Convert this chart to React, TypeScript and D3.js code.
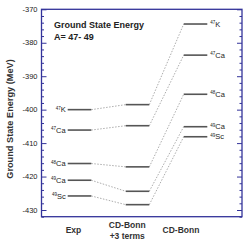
import React, { useEffect, useRef } from "react";
import * as d3 from "d3";

// columns of the level scheme
const columns = ["Exp", "CD-Bonn +3 terms", "CD-Bonn"];
const columnLines = [["Exp"], ["CD-Bonn", "+3 terms"], ["CD-Bonn"]];

// nuclei (mass number + symbol)
const masses = ["47", "47", "48", "49", "49"];
const symbols = ["K", "Ca", "Ca", "Ca", "Sc"];

// ground state energies (MeV)
const expValues = [-400.0, -406.1, -416.1, -421.1, -425.8];
const cdBonn3Values = [-398.5, -404.8, -417.1, -424.4, -428.4];
const cdBonnValues = [-374.4, -383.7, -395.4, -405.1, -408.1];

const yTicks = [-370, -380, -390, -400, -410, -420, -430];

const App = () => {
  const svgRef = useRef<SVGSVGElement>(null);

  const width = 249;
  const height = 249;
  const marginLeft = 41.5;
  const marginRight = 7;
  const marginTop = 9.3;
  const plotBottom = 216.7;
  const frameColor = "#33339a";
  const levelColor = "#555";
  const halfW = 11.8;

  useEffect(() => {
    const svg = d3.select(svgRef.current);
    svg.selectAll("*").remove();
    svg.attr("width", width).attr("height", height).attr("viewBox", [0, 0, width, height].join(" "));

    const y = d3.scaleLinear().domain([-432, -370]).range([plotBottom, marginTop]);
    const x = d3.scalePoint<string>().domain(columns).range([79.5, 195.5]);
    const xLabel = d3.scalePoint<string>().domain(columns).range([73.5, 181]);

    const font = "Arial, 'Liberation Sans', Helvetica, sans-serif";
    const series = [expValues, cdBonn3Values, cdBonnValues];

    // frame
    svg.append("rect")
      .attr("x", marginLeft)
      .attr("y", marginTop)
      .attr("width", width - marginRight - marginLeft)
      .attr("height", plotBottom - marginTop)
      .attr("fill", "white")
      .attr("stroke", frameColor)
      .attr("stroke-width", 1.3);

    // left / right axes with inward ticks
    const minor = d3.range(-432, -369, 2).filter(v => v % 10 !== 0);
    svg.append("g")
      .attr("transform", `translate(${marginLeft},0)`)
      .call(d3.axisRight(y).tickValues(yTicks).tickSize(5).tickFormat(() => ""))
      .call(g => g.select(".domain").remove())
      .call(g => g.selectAll("line").attr("stroke", frameColor));
    svg.append("g")
      .attr("transform", `translate(${marginLeft},0)`)
      .call(d3.axisRight(y).tickValues(minor).tickSize(2.5).tickFormat(() => ""))
      .call(g => g.select(".domain").remove())
      .call(g => g.selectAll("line").attr("stroke", frameColor));
    svg.append("g")
      .attr("transform", `translate(${width - marginRight},0)`)
      .call(d3.axisLeft(y).tickValues(yTicks).tickSize(5).tickFormat(() => ""))
      .call(g => g.select(".domain").remove())
      .call(g => g.selectAll("line").attr("stroke", frameColor));
    svg.append("g")
      .attr("transform", `translate(${width - marginRight},0)`)
      .call(d3.axisLeft(y).tickValues(minor).tickSize(2.5).tickFormat(() => ""))
      .call(g => g.select(".domain").remove())
      .call(g => g.selectAll("line").attr("stroke", frameColor));

    // tick labels
    svg.append("g")
      .selectAll("text")
      .data(yTicks)
      .join("text")
      .attr("x", marginLeft - 4)
      .attr("y", d => y(d))
      .attr("dy", "0.35em")
      .attr("text-anchor", "end")
      .attr("font-family", font)
      .attr("font-size", 7.5)
      .attr("fill", "#222")
      .text(d => d);

    // y title
    svg.append("text")
      .attr("transform", `translate(13,${(marginTop + plotBottom) / 2 + 6}) rotate(-90)`)
      .attr("text-anchor", "middle")
      .attr("font-family", font)
      .attr("font-size", 9.2)
      .attr("font-weight", "bold")
      .attr("fill", "#333")
      .text("Ground State Energy (MeV)");

    // connectors
    const conn = svg.append("g")
      .attr("fill", "none")
      .attr("stroke", "#888")
      .attr("stroke-width", 0.7)
      .attr("stroke-dasharray", "1.5,1.5");
    for (let c = 0; c < columns.length - 1; c++) {
      series[c].forEach((v, i) => {
        conn.append("line")
          .attr("x1", (x(columns[c]) as number) + halfW)
          .attr("y1", y(v))
          .attr("x2", (x(columns[c + 1]) as number) - halfW)
          .attr("y2", y(series[c + 1][i]));
      });
    }

    // levels
    series.forEach((vals, c) => {
      svg.append("g")
        .selectAll("line")
        .data(vals)
        .join("line")
        .attr("x1", (x(columns[c]) as number) - halfW)
        .attr("x2", (x(columns[c]) as number) + halfW)
        .attr("y1", d => y(d))
        .attr("y2", d => y(d))
        .attr("stroke", levelColor)
        .attr("stroke-width", 1.6);
    });

    // nucleus labels: Exp (left) and CD-Bonn (right)
    const addLabels = (vals: number[], xPos: number, anchor: string) => {
      const g = svg.append("g")
        .attr("font-family", font)
        .attr("fill", "#222");
      vals.forEach((v, i) => {
        const t = g.append("text")
          .attr("x", xPos)
          .attr("y", y(v) + 2.6)
          .attr("text-anchor", anchor)
          .attr("font-size", 7.5);
        t.append("tspan").attr("font-size", 4.5).attr("dy", -2.6).text(masses[i]);
        t.append("tspan").attr("dy", 2.6).text(symbols[i]);
      });
    };
    addLabels(expValues, (x(columns[0]) as number) - halfW - 2, "end");
    addLabels(cdBonnValues, (x(columns[2]) as number) + halfW + 3, "start");

    // column labels
    columns.forEach((c, ci) => {
      const lines = columnLines[ci];
      const t = svg.append("text")
        .attr("x", xLabel(c) as number)
        .attr("y", lines.length > 1 ? 228 : 233)
        .attr("text-anchor", "middle")
        .attr("font-family", font)
        .attr("font-size", 8.5)
        .attr("font-weight", "bold")
        .attr("fill", "#333");
      lines.forEach((l, li) => {
        t.append("tspan")
          .attr("x", xLabel(c) as number)
          .attr("dy", li === 0 ? 0 : 10.5)
          .text(l);
      });
    });

    // title
    svg.append("text")
      .attr("x", 54)
      .attr("y", 28)
      .attr("font-family", font)
      .attr("font-size", 9)
      .attr("font-weight", "bold")
      .attr("fill", "#222")
      .text("Ground State Energy");
    svg.append("text")
      .attr("x", 54)
      .attr("y", 39.5)
      .attr("font-family", font)
      .attr("font-size", 9)
      .attr("font-weight", "bold")
      .attr("fill", "#222")
      .text("A= 47- 49");
  }, []);

  return (
    <div style={{ position: "absolute", left: 0, top: 0, background: "white" }}>
      <svg ref={svgRef} style={{ display: "block" }} />
    </div>
  );
};

export default App;
